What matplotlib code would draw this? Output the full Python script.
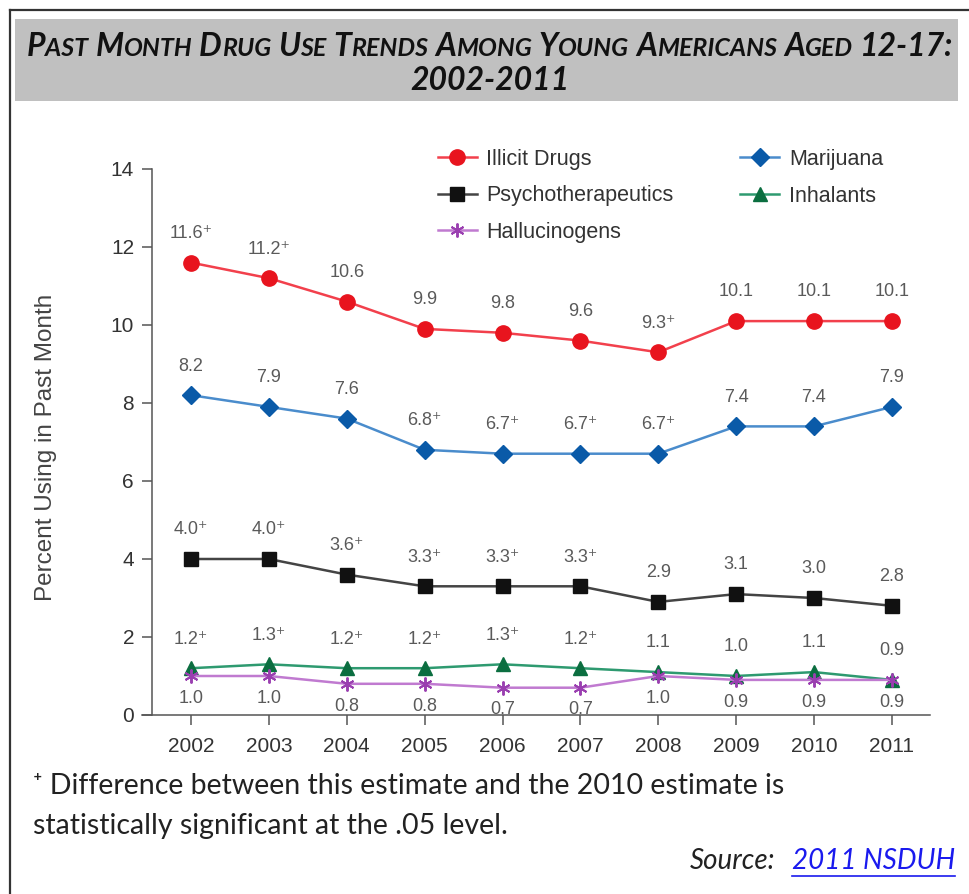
import matplotlib.pyplot as plt
from matplotlib.offsetbox import TextArea, HPacker, AnchoredOffsetbox
from matplotlib.patches import Rectangle
from matplotlib.lines import Line2D

years = [2002, 2003, 2004, 2005, 2006, 2007, 2008, 2009, 2010, 2011]

illicit = [11.6, 11.2, 10.6, 9.9, 9.8, 9.6, 9.3, 10.1, 10.1, 10.1]
marijuana = [8.2, 7.9, 7.6, 6.8, 6.7, 6.7, 6.7, 7.4, 7.4, 7.9]
psycho = [4.0, 4.0, 3.6, 3.3, 3.3, 3.3, 2.9, 3.1, 3.0, 2.8]
inhalants = [1.2, 1.3, 1.2, 1.2, 1.3, 1.2, 1.1, 1.0, 1.1, 0.9]
halluc = [1.0, 1.0, 0.8, 0.8, 0.7, 0.7, 1.0, 0.9, 0.9, 0.9]

# significant vs 2010 estimate
illicit_sig = [1, 1, 0, 0, 0, 0, 1, 0, 0, 0]
marijuana_sig = [0, 0, 0, 1, 1, 1, 1, 0, 0, 0]
psycho_sig = [1, 1, 1, 1, 1, 1, 0, 0, 0, 0]
inhalants_sig = [1, 1, 1, 1, 1, 1, 0, 0, 0, 0]
halluc_sig = [0] * 10

SANS = ['Liberation Sans', 'DejaVu Sans']
TXT = ['Lato', 'DejaVu Sans']

fig = plt.figure(figsize=(9.69, 8.94), dpi=100)
W, H = 969, 894

def fx(px):
    return px / W

def fy(py):
    return 1 - py / H

# outer frame (left and top only)
fig.add_artist(Line2D([fx(10), fx(10)], [fy(10), 0], color='#333333', lw=1.6))
fig.add_artist(Line2D([fx(10), 1], [fy(10), fy(10)], color='#333333', lw=1.6))

# grey title band
fig.add_artist(Rectangle((fx(15), fy(101)), fx(958) - fx(15), fy(19) - fy(101),
                         facecolor='#c0c0c0', edgecolor='none'))

# small caps title built from pieces
title_words = ['PAST', 'MONTH', 'DRUG', 'USE', 'TRENDS', 'AMONG', 'YOUNG',
               'AMERICANS', 'AGED', '12-17:']
big, small = 23, 18
tp = dict(family=TXT, fontweight='bold', fontstyle='italic', color='#111111')
boxes = []
for w in title_words:
    if w[0].isdigit():
        boxes.append(TextArea(w, textprops=dict(fontsize=big, **tp)))
    else:
        boxes.append(HPacker(children=[
            TextArea(w[0], textprops=dict(fontsize=big, **tp)),
            TextArea(w[1:], textprops=dict(fontsize=small, **tp))],
            align='baseline', pad=0, sep=0))
title_box = HPacker(children=boxes, align='baseline', pad=0, sep=5)
anch = AnchoredOffsetbox(loc='center', child=title_box, frameon=False,
                         bbox_to_anchor=(fx(490), fy(46)),
                         bbox_transform=fig.transFigure, borderpad=0, pad=0)
fig.add_artist(anch)
fig.text(fx(490), fy(80), '2002-2011', ha='center', va='center',
         fontsize=big, **tp)

ax = fig.add_axes([fx(142), fy(715), fx(930) - fx(142), fy(169) - fy(715)])
ax.set_xlim(2001.37, 2011.49)
ax.set_ylim(0, 14)

series = [
    ('Illicit Drugs', illicit, illicit_sig, '#f2404c', '#e8141e', 'o', 11, 'above'),
    ('Marijuana', marijuana, marijuana_sig, '#4a8ccc', '#0a5aa8', 'D', 9, 'above'),
    ('Psychotherapeutics', psycho, psycho_sig, '#444444', '#111111', 's', 10, 'above'),
    ('Inhalants', inhalants, inhalants_sig, '#2e9a70', '#0b6e40', '^', 10, 'above'),
    ('Hallucinogens', halluc, halluc_sig, '#c07ad0', '#9a3fb0', (6, 2, 0), 10, 'below'),
]

handles = {}
for name, vals, sig, lc, mc, mk, ms, pos in series:
    h, = ax.plot(years, vals, color=lc, lw=1.8, marker=mk, markersize=ms,
                 markerfacecolor=mc, markeredgecolor=mc, label=name,
                 markeredgewidth=1.4 if pos == 'below' else 1.0)
    handles[name] = h
    dy = 21 if pos == 'above' else -16
    for x, v, s in zip(years, vals, sig):
        lab = f'{v:.1f}' + ('\u207a' if s else '')
        ax.annotate(lab, (x, v), xytext=(0, dy), textcoords='offset points',
                    ha='center', va='center', fontsize=13, color='#5a5a5a',
                    family=SANS)

order = ['Illicit Drugs', 'Psychotherapeutics', 'Hallucinogens', 'Marijuana', 'Inhalants']
leg = ax.legend([handles[n] for n in order], order, ncol=2, frameon=False,
                loc='upper left', bbox_to_anchor=(fx(438), fy(149)),
                bbox_transform=fig.transFigure, prop=dict(family=SANS, size=15.5),
                handlelength=1.8, handletextpad=0.45, columnspacing=3.1,
                labelspacing=0.72, borderaxespad=0, borderpad=0)
for t in leg.get_texts():
    t.set_color('#333333')

for s in ['top', 'right']:
    ax.spines[s].set_visible(False)
ax.spines['left'].set_position(('data', 2001.5))
ax.spines['left'].set_bounds(0, 14)
for s in ['left', 'bottom']:
    ax.spines[s].set_color('#555555')
    ax.spines[s].set_linewidth(1.1)

ax.set_xticks(years)
ax.set_yticks(range(0, 15, 2))
ax.tick_params(axis='both', direction='out', length=7, width=1.1,
               color='#555555', labelcolor='#333333', labelsize=15)
ax.tick_params(axis='y', pad=6)
ax.tick_params(axis='x', pad=9)
for t in ax.get_xticklabels() + ax.get_yticklabels():
    t.set_family(SANS)

ax.set_ylabel('Percent Using in Past Month', fontsize=17.5, color='#444444',
              family=SANS)
ax.yaxis.set_label_coords((57 - 142) / (930 - 142), (715 - 447) / (715 - 169))

# footnote and source
foot = dict(fontsize=20.5, family=TXT, color='#222222', va='center')
fig.text(fx(33), fy(786), '\u207a Difference between this estimate and the 2010 estimate is',
         **foot)
fig.text(fx(33), fy(826), 'statistically significant at the .05 level.', **foot)
link = fig.text(fx(955), fy(861), '2011 NSDUH', fontsize=20, family=TXT,
                fontstyle='italic', color='#1a1aee', va='center', ha='right')
r = fig.canvas.get_renderer()
bb = link.get_window_extent(renderer=r)
fig.text((bb.x0 - 16) / W, fy(861), 'Source:', fontsize=20, family=TXT,
         fontstyle='italic', color='#222222', va='center', ha='right')
fig.add_artist(Line2D([bb.x0 / W, bb.x1 / W], [fy(876), fy(876)], color='#1a1aee', lw=1.2))

fig.savefig('out.png', dpi=100)
